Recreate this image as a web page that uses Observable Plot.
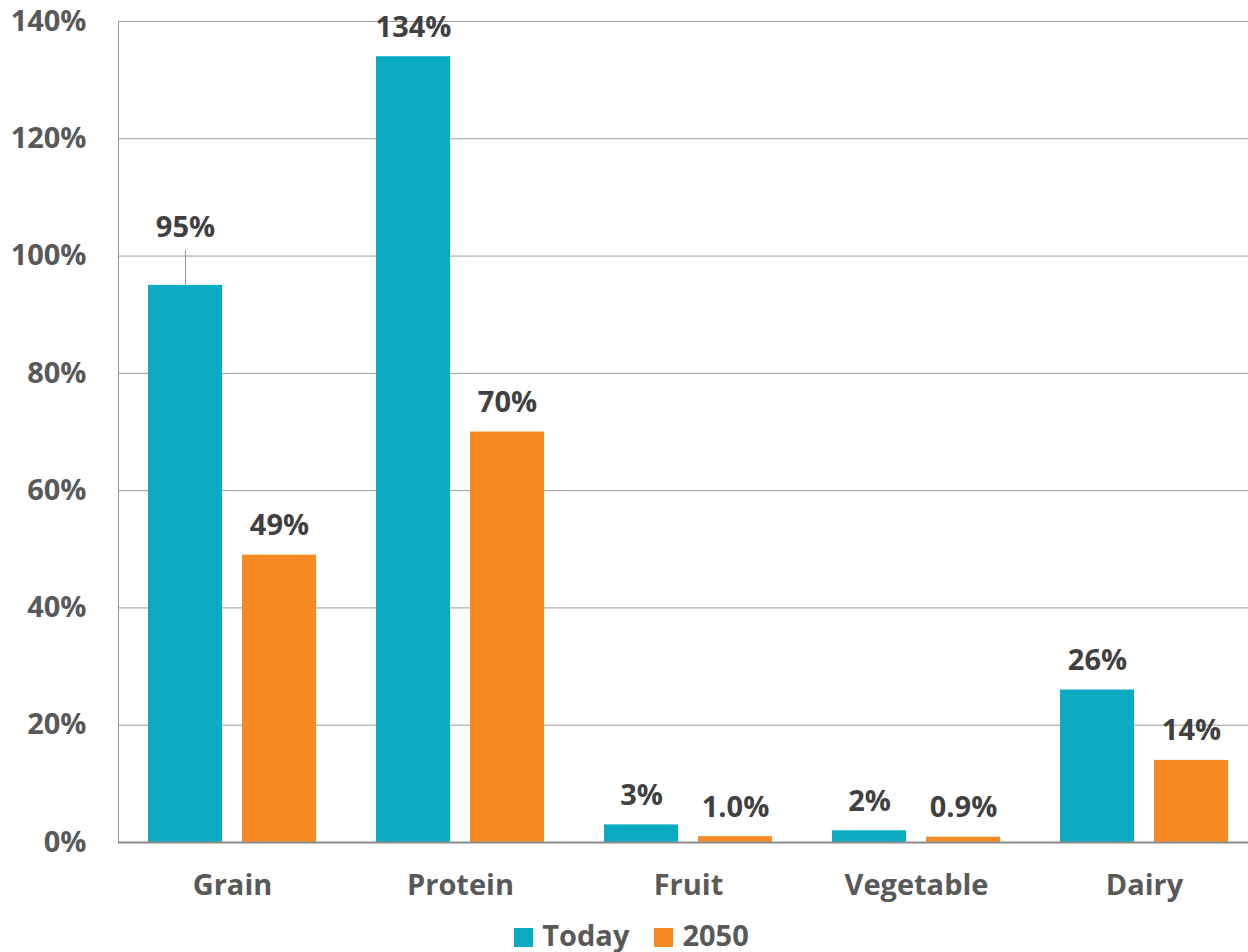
<!DOCTYPE html>
<html>
<head>
<meta charset="utf-8">
<script src="https://cdn.jsdelivr.net/npm/d3@7"></script>
<script src="https://cdn.jsdelivr.net/npm/@observablehq/plot@0.6"></script>
<style>
  html, body { margin: 0; padding: 0; background: #fff; overflow: hidden; }
  #chart svg { display: block; }
  .legend { display: flex; align-items: center; justify-content: center; padding-left: 40px;
    font-family: 'Open Sans', sans-serif; font-weight: 700; font-size: 29px; color: #595959; line-height: 37px; margin-top: 1px; }
  .legend .item { display: flex; align-items: center; margin-right: 25px; }
  .legend .sw { width: 19px; height: 19px; margin-right: 9px; margin-top: 6px; }
</style>
</head>
<body>
<div id="chart"></div>
<div class="legend" id="legend"></div>
<script>
const categories = ["Grain", "Protein", "Fruit", "Vegetable", "Dairy"];
const series = ["Today", "2050"];
const todayValues = [95, 134, 3, 2, 26];
const futureValues = [49, 70, 1.0, 0.9, 14];
const todayLabels = ["95%", "134%", "3%", "2%", "26%"];
const futureLabels = ["49%", "70%", "1.0%", "0.9%", "14%"];
const yTicks = [0, 20, 40, 60, 80, 100, 120, 140];
const seriesColors = ["#0aabc1", "#f68b24"];

const todayRows = categories.map((c, i) => ({category: c, series: series[0], value: todayValues[i], label: todayLabels[i]}));
const futureRows = categories.map((c, i) => ({category: c, series: series[1], value: futureValues[i], label: futureLabels[i]}));

const leader = {
  draw(context, l) { context.moveTo(0, 0); context.lineTo(0, -l); }
};

const FS = 29;
const chart = Plot.plot({
  width: 1248,
  height: 915,
  marginLeft: 118,
  marginRight: 0,
  marginTop: 21,
  marginBottom: 73,
  style: {fontFamily: "'Open Sans', sans-serif", fontSize: FS + "px", fontWeight: "bold", color: "#595959", background: "white"},
  x: {domain: categories, range: [118, 1258], padding: 0, axis: null, label: null},
  y: {domain: [0, 140], axis: null, label: null},
  color: {domain: series, range: seriesColors},
  marks: [
    Plot.ruleY(yTicks.filter(d => d > 0), {stroke: "#9a9a9a", strokeWidth: 1}),
    Plot.frame({anchor: "left", stroke: "#9a9a9a", strokeWidth: 1}),
    Plot.barY(todayRows, {x: "category", y: "value", fill: "series", insetLeft: 30, insetRight: 124}),
    Plot.barY(futureRows, {x: "category", y: "value", fill: "series", insetLeft: 124, insetRight: 30}),
    Plot.ruleY([0], {stroke: "#8c8c8c", strokeWidth: 2}),
    Plot.vector(todayRows.filter(d => d.category === "Grain"), {x: "category", y: "value", dx: -47, length: 35, rotate: 0, anchor: "start", shape: leader, stroke: "#9a9a9a", strokeWidth: 1}),
    Plot.text(todayRows.filter(d => d.category === "Grain"), {x: "category", y: "value", text: "label", dx: -47, dy: -48, lineAnchor: "bottom", fill: "#404040", fontSize: FS, fontWeight: "bold"}),
    Plot.text(todayRows.filter(d => d.category !== "Grain"), {x: "category", y: "value", text: "label", dx: -47, dy: -20, lineAnchor: "bottom", fill: "#404040", fontSize: FS, fontWeight: "bold"}),
    Plot.text(futureRows, {x: "category", y: "value", text: "label", dx: 47, dy: -20, lineAnchor: "bottom", fill: "#404040", fontSize: FS, fontWeight: "bold"}),
    Plot.axisX({tickSize: 0, tickPadding: 32, fontSize: FS, fontWeight: "bold", label: null}),
    Plot.axisY({ticks: yTicks, tickSize: 0, tickPadding: 32, tickFormat: d => d + "%", fontSize: FS, fontWeight: "bold", label: null})
  ]
});
document.getElementById("chart").appendChild(chart);

const legend = document.getElementById("legend");
series.forEach((s, i) => {
  const item = document.createElement("div");
  item.className = "item";
  const sw = document.createElement("span");
  sw.className = "sw";
  sw.style.background = seriesColors[i];
  const label = document.createElement("span");
  label.textContent = s;
  item.appendChild(sw);
  item.appendChild(label);
  legend.appendChild(item);
});
</script>
</body>
</html>
